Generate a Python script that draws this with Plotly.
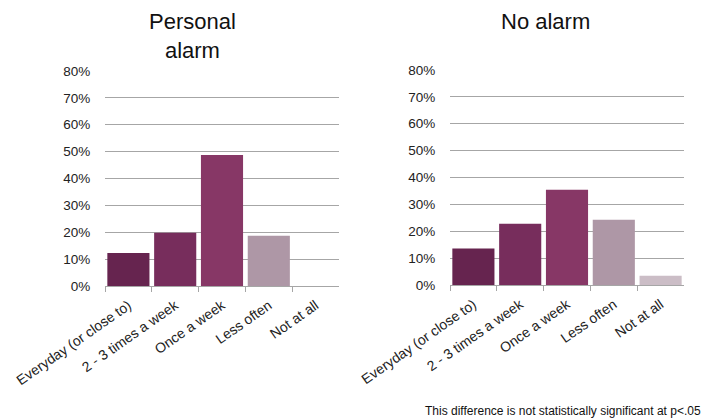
import plotly.graph_objects as go

categories = ["Everyday (or close to)", "2 - 3 times a week", "Once a week", "Less often", "Not at all"]
personal_alarm = [0.123, 0.198, 0.487, 0.187, 0.0]
no_alarm = [0.136, 0.228, 0.354, 0.243, 0.034]
tick_vals = [0, 0.1, 0.2, 0.3, 0.4, 0.5, 0.6, 0.7, 0.8]

bar_colors = ["#66244F", "#772D5C", "#873766", "#AE97A6", "#CBBDC6"]

font_family = "Liberation Sans, Arial, sans-serif"
W, H = 720, 419

fig = go.Figure()
fig.add_trace(go.Bar(x=categories, y=personal_alarm, marker=dict(color=bar_colors, line=dict(width=0)),
                     xaxis="x", yaxis="y", showlegend=False))
fig.add_trace(go.Bar(x=categories, y=no_alarm, marker=dict(color=bar_colors, line=dict(width=0)),
                     xaxis="x2", yaxis="y2", showlegend=False))

xcommon = dict(tickangle=-35, tickfont=dict(size=14, color="#222"), showline=True, linecolor="#A6A6A6",
               linewidth=1, ticks="outside", tickson="boundaries", ticklen=5, tickcolor="#A6A6A6",
               ticklabelstandoff=5,
               showgrid=False, zeroline=False, fixedrange=True, automargin=False)
ycommon = dict(range=[0, 0.8], tickvals=tick_vals, tickformat=".0%", tickfont=dict(size=13.5, color="#222"),
               showgrid=True, gridcolor="#A6A6A6", gridwidth=1, zeroline=False, showline=False,
               ticks="outside", ticklen=11, tickcolor="rgba(0,0,0,0)", automargin=False, fixedrange=True)

fig.update_layout(
    width=W, height=H,
    margin=dict(l=0, r=0, t=0, b=0, autoexpand=False),
    paper_bgcolor="white", plot_bgcolor="white",
    font=dict(family=font_family, color="#222"),
    bargap=0.1,
    xaxis=dict(domain=[105/W, 339/W], anchor="y", **xcommon),
    yaxis=dict(domain=[1-286/H, 1-71/H], anchor="x", **ycommon),
    xaxis2=dict(domain=[450/W, 684/W], anchor="y2", **xcommon),
    yaxis2=dict(domain=[1-285/H, 1-70/H], anchor="x2", **ycommon),
    annotations=[
        dict(text="Personal<br>alarm", x=192/W, y=1-7/H, xref="paper", yref="paper",
             xanchor="center", yanchor="top", showarrow=False, font=dict(size=22, color="#111")),
        dict(text="No alarm", x=545/W, y=1-7/H, xref="paper", yref="paper",
             xanchor="center", yanchor="top", showarrow=False, font=dict(size=22, color="#111")),
        dict(text="This difference is not statistically significant at p<.05", x=703/W, y=-1/H,
             xref="paper", yref="paper", xanchor="right", yanchor="bottom", showarrow=False,
             font=dict(size=12, color="#111")),
    ],
)

fig.write_html("out.html", config={"displayModeBar": False},
               post_script="document.body.style.margin='0';document.body.style.overflow='hidden';")
